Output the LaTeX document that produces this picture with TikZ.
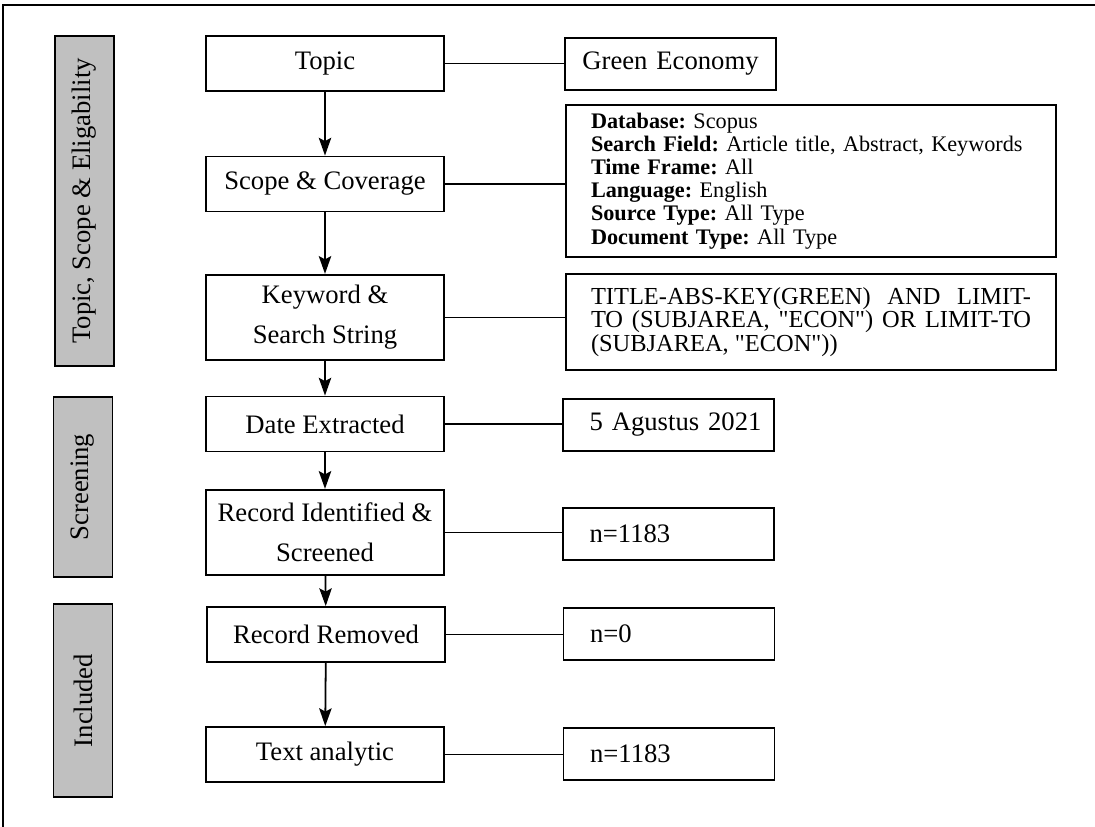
\documentclass[tikz,border=0pt]{standalone}
\usepackage{fontspec}
\setmainfont{Liberation Serif}
\newfontfamily\searchfont{Liberation Serif}
\usepackage{amsmath}
\usepackage{xcolor}
\usetikzlibrary{arrows.meta}
\definecolor{phasegray}{HTML}{C0C0C0}
\frenchspacing

\begin{document}
\begin{tikzpicture}[
            x = 0.45pt, y = -0.45pt, % one unit = one pixel, y downwards
            > = {Stealth[length=8pt, width=5.6pt, inset=1.5pt]}, % arrow head style
            line width = 0.8pt, % line style
            stepbox/.style = {draw, minimum width=107pt, minimum height=24.8pt, align=center, font=\fontsize{12}{18}\selectfont},
            tallbox/.style = {stepbox, minimum height=38.5pt},
            infobox/.style = {draw, minimum width=95pt, minimum height=23.4pt, text width=71pt, inner xsep=12pt, align=left, font=\fontsize{12}{14}\selectfont},
            widebox/.style = {draw, text width=198pt, inner xsep=11.25pt, align=left},
            phase/.style = {draw, fill=phasegray, rotate=90, minimum height=26.5pt, font=\fontsize{12}{14}\selectfont}
        ]
\useasboundingbox (0,0) rectangle (1095,827);
% page frame
\draw[line width=1pt] (3,827) -- (3,5) -- (1095,5);

% phases
\node[phase, minimum width=148.5pt] (P1) at (84.5,201) {Topic, Scope \& Eligability};
\node[phase, minimum width=81pt] (P2) at (83,487) {Screening};
\node[phase, minimum width=86.9pt] (P3) at (83,700.5) {Included};

% steps
\node[stepbox] (T) at (325,63.5) {Topic};
\node[stepbox] (S) at (325,184) {Scope \& Coverage};
\node[tallbox] (K) at (325,317.5) {Keyword \&\\Search String};
\node[stepbox] (D) at (325,424) {Date Extracted};
\node[tallbox] (R) at (325,532.5) {Record Identified \&\\Screened};
\node[stepbox] (M) at (326,634.5) {Record Removed};
\node[stepbox] (A) at (325,754.5) {Text analytic};

% details
\node[infobox, align=center, inner xsep=4pt, text width=87pt] (G) at (670.5,64) {Green Economy};
\node[widebox, minimum height=68.4pt, font=\fontsize{10}{10.4}\selectfont] (C) at (811,181) {%
\textbf{Database:} Scopus\\
\textbf{Search Field:} Article title, Abstract, Keywords\\
\textbf{Time Frame:} All\\
\textbf{Language:} English\\
\textbf{Source Type:} All Type\\
\textbf{Document Type:} All Type};
\node[widebox, minimum height=43.2pt, align=justify, font=\searchfont\fontsize{11}{10.6}\selectfont] (Q) at (811,322) {%
TITLE-ABS-KEY(GREEN) AND LIMIT-\linebreak TO (SUBJAREA, "ECON") OR LIMIT-TO\linebreak (SUBJAREA, "ECON"))};
\node[infobox] (DX) at (668.5,425) {\mbox{5 Agustus 2021}};
\node[infobox] (NI) at (668.5,534) {n=1183};
\node[infobox] (NR) at (669,634) {n=0};
\node[infobox] (NA) at (669,754) {n=1183};

 \path [->] (T) edge (S);
 \path [->] (S) edge (K);
 \path [->] (K) edge (D);
 \path [->] (D) edge (R);
 \path [->] (R) edge (M);
 \path [->] (M) edge (A);

 \draw (T.east) -- (T.east -| G.west);
 \draw (S.east) -- (S.east -| C.west);
 \draw (K.east) -- (K.east -| Q.west);
 \draw (D.east) -- (D.east -| DX.west);
 \draw (R.east) -- (R.east -| NI.west);
 \draw (M.east) -- (M.east -| NR.west);
 \draw (A.east) -- (A.east -| NA.west);

\end{tikzpicture}
\end{document}
